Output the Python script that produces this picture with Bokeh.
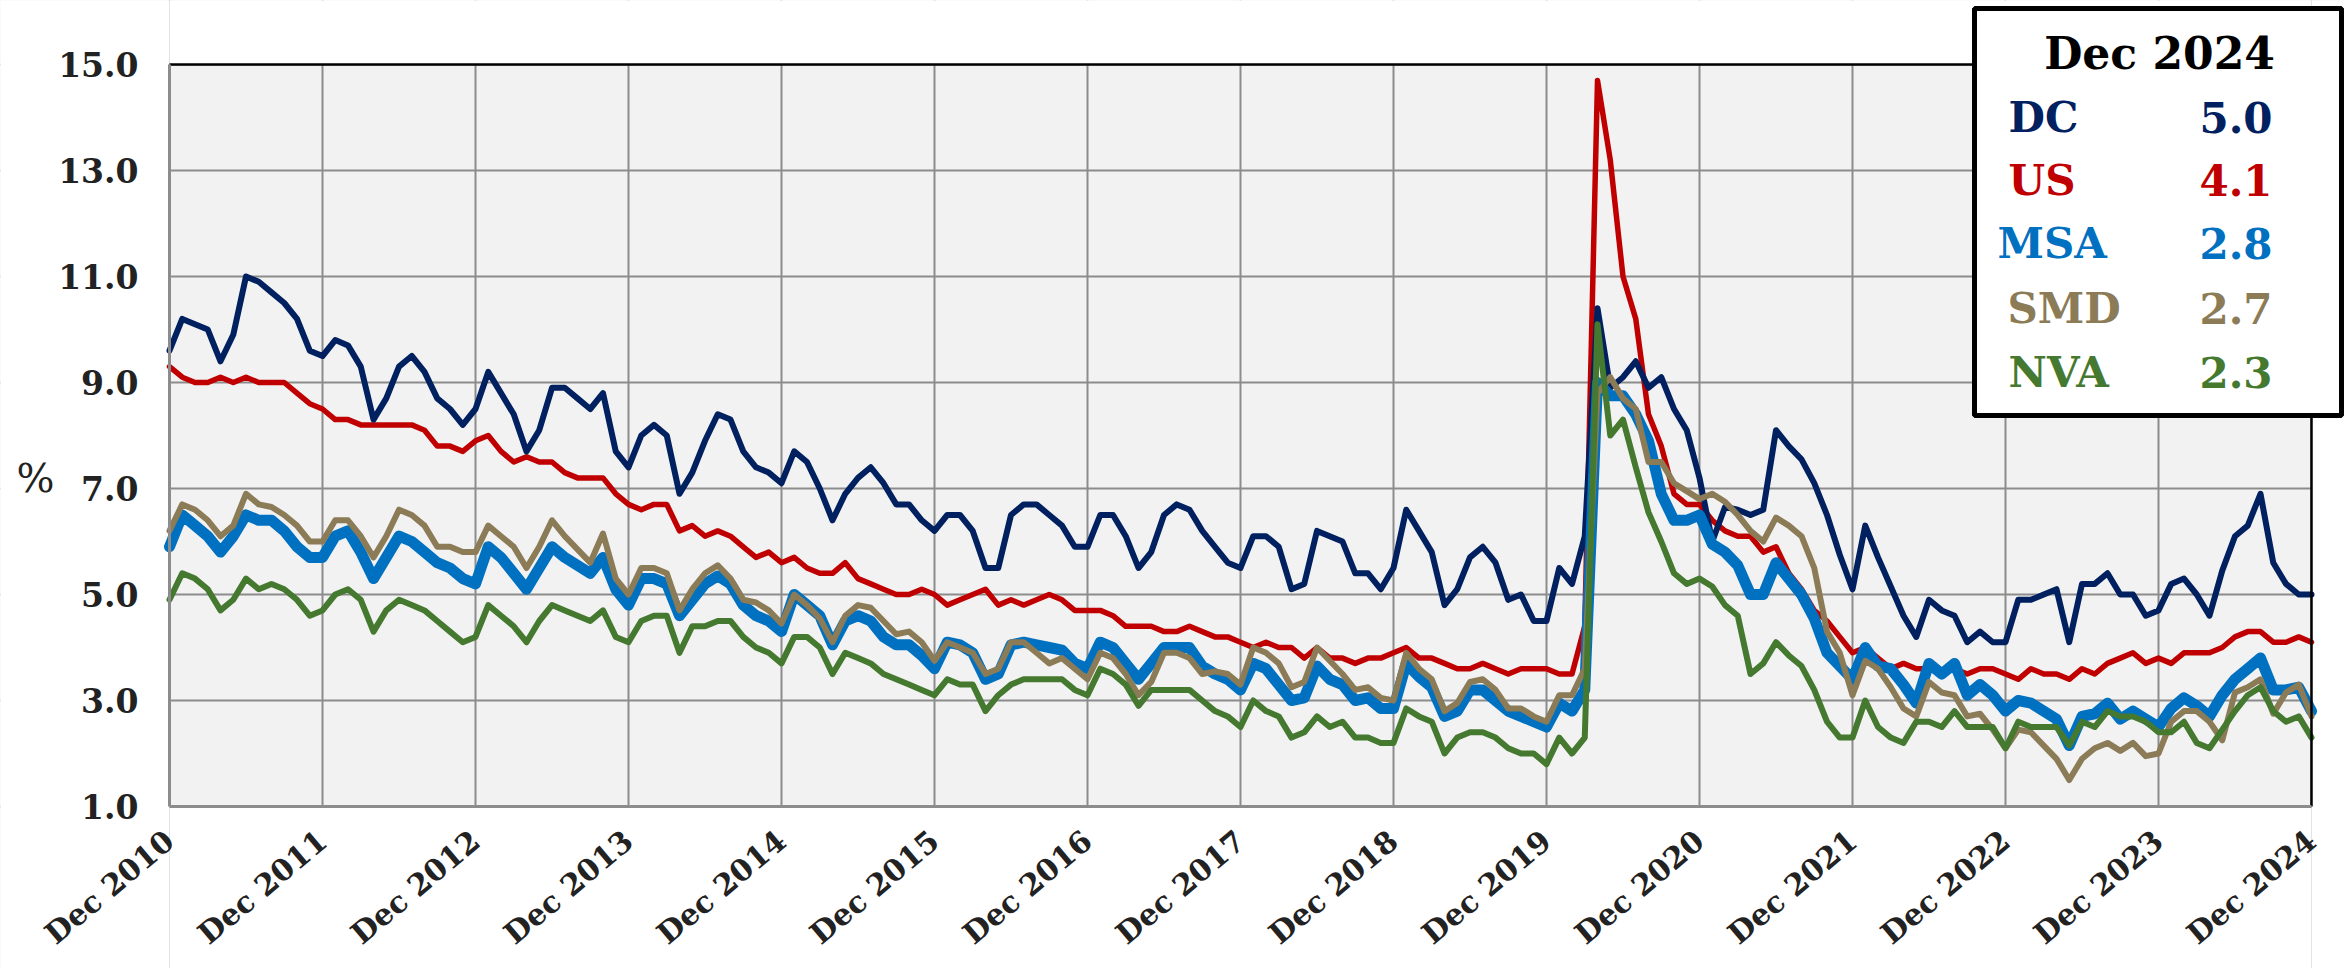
import math
from bokeh.plotting import figure
from bokeh.models import FixedTicker, Label, BoxAnnotation
from bokeh.embed import file_html
from bokeh.resources import INLINE

# ---------------- data (monthly, Dec 2010 .. Dec 2024) ----------------
tick_labels = ["Dec 2010", "Dec 2011", "Dec 2012", "Dec 2013", "Dec 2014", "Dec 2015", "Dec 2016",
               "Dec 2017", "Dec 2018", "Dec 2019", "Dec 2020", "Dec 2021", "Dec 2022", "Dec 2023", "Dec 2024"]
y_ticks = [1.0, 3.0, 5.0, 7.0, 9.0, 11.0, 13.0, 15.0]

dc = [9.6, 10.2, 10.1, 10.0, 9.4, 9.9, 11.0, 10.9, 10.7, 10.5, 10.2, 9.6,
      9.5, 9.8, 9.7, 9.3, 8.3, 8.7, 9.3, 9.5, 9.2, 8.7, 8.5, 8.2,
      8.5, 9.2, 8.8, 8.4, 7.7, 8.1, 8.9, 8.9, 8.7, 8.5, 8.8, 7.7,
      7.4, 8.0, 8.2, 8.0, 6.9, 7.3, 7.9, 8.4, 8.3, 7.7, 7.4, 7.3,
      7.1, 7.7, 7.5, 7.0, 6.4, 6.9, 7.2, 7.4, 7.1, 6.7, 6.7, 6.4,
      6.2, 6.5, 6.5, 6.2, 5.5, 5.5, 6.5, 6.7, 6.7, 6.5, 6.3, 5.9,
      5.9, 6.5, 6.5, 6.1, 5.5, 5.8, 6.5, 6.7, 6.6, 6.2, 5.9, 5.6,
      5.5, 6.1, 6.1, 5.9, 5.1, 5.2, 6.2, 6.1, 6.0, 5.4, 5.4, 5.1,
      5.5, 6.6, 6.2, 5.8, 4.8, 5.1, 5.7, 5.9, 5.6, 4.9, 5.0, 4.5,
      4.5, 5.5, 5.2, 6.1, 10.4, 8.9, 9.1, 9.4, 8.9, 9.1, 8.5, 8.1,
      7.2, 6.0, 6.65, 6.6, 6.5, 6.6, 8.1, 7.8, 7.55, 7.1, 6.5, 5.75,
      5.1, 6.3, 5.7, 5.15, 4.6, 4.2, 4.9, 4.7, 4.6, 4.1, 4.3, 4.1,
      4.1, 4.9, 4.9, 5.0, 5.1, 4.1, 5.2, 5.2, 5.4, 5.0, 5.0, 4.6,
      4.7, 5.2, 5.3, 5.0, 4.6, 5.45, 6.1, 6.3, 6.9, 5.6, 5.2, 5.0, 5.0]

us = [9.3, 9.1, 9.0, 9.0, 9.1, 9.0, 9.1, 9.0, 9.0, 9.0, 8.8, 8.6,
      8.5, 8.3, 8.3, 8.2, 8.2, 8.2, 8.2, 8.2, 8.1, 7.8, 7.8, 7.7,
      7.9, 8.0, 7.7, 7.5, 7.6, 7.5, 7.5, 7.3, 7.2, 7.2, 7.2, 6.9,
      6.7, 6.6, 6.7, 6.7, 6.2, 6.3, 6.1, 6.2, 6.1, 5.9, 5.7, 5.8,
      5.6, 5.7, 5.5, 5.4, 5.4, 5.6, 5.3, 5.2, 5.1, 5.0, 5.0, 5.1,
      5.0, 4.8, 4.9, 5.0, 5.1, 4.8, 4.9, 4.8, 4.9, 5.0, 4.9, 4.7,
      4.7, 4.7, 4.6, 4.4, 4.4, 4.4, 4.3, 4.3, 4.4, 4.3, 4.2, 4.2,
      4.1, 4.0, 4.1, 4.0, 4.0, 3.8, 4.0, 3.8, 3.8, 3.7, 3.8, 3.8,
      3.9, 4.0, 3.8, 3.8, 3.7, 3.6, 3.6, 3.7, 3.6, 3.5, 3.6, 3.6,
      3.6, 3.5, 3.5, 4.4, 14.7, 13.2, 11.0, 10.2, 8.4, 7.8, 6.9, 6.7,
      6.7, 6.4, 6.2, 6.1, 6.1, 5.8, 5.9, 5.4, 5.1, 4.7, 4.5, 4.2,
      3.9, 4.0, 3.8, 3.6, 3.7, 3.6, 3.6, 3.5, 3.6, 3.5, 3.6, 3.6,
      3.5, 3.4, 3.6, 3.5, 3.5, 3.4, 3.6, 3.5, 3.7, 3.8, 3.9, 3.7,
      3.8, 3.7, 3.9, 3.9, 3.9, 4.0, 4.2, 4.3, 4.3, 4.1, 4.1, 4.2, 4.1]

msa = [5.9, 6.5, 6.3, 6.1, 5.8, 6.1, 6.5, 6.4, 6.4, 6.2, 5.9, 5.7,
       5.7, 6.1, 6.2, 5.8, 5.3, 5.7, 6.1, 6.0, 5.8, 5.6, 5.5, 5.3,
       5.2, 5.9, 5.7, 5.4, 5.1, 5.5, 5.9, 5.7, 5.55, 5.4, 5.7, 5.1,
       4.8, 5.3, 5.3, 5.2, 4.6, 4.9, 5.2, 5.35, 5.2, 4.8, 4.6, 4.5,
       4.3, 5.0, 4.8, 4.6, 4.05, 4.5, 4.6, 4.5, 4.2, 4.05, 4.05, 3.85,
       3.6, 4.1, 4.05, 3.9, 3.4, 3.5, 4.05, 4.1, 4.05, 4.0, 3.95, 3.7,
       3.6, 4.1, 4.0, 3.7, 3.4, 3.7, 4.0, 4.0, 4.0, 3.65, 3.5, 3.4,
       3.2, 3.7, 3.6, 3.3, 3.0, 3.05, 3.65, 3.4, 3.3, 3.0, 3.05, 2.85,
       2.85, 3.7, 3.45, 3.25, 2.7, 2.8, 3.2, 3.2, 3.0, 2.8, 2.7, 2.6,
       2.5, 2.95, 2.8, 3.2, 9.0, 8.75, 8.75, 8.4, 7.9, 6.9, 6.4, 6.4,
       6.5, 5.95, 5.8, 5.55, 5.0, 5.0, 5.6, 5.3, 5.0, 4.55, 3.9, 3.65,
       3.4, 4.0, 3.65, 3.6, 3.3, 2.95, 3.7, 3.5, 3.7, 3.1, 3.3, 3.1,
       2.8, 3.0, 2.95, 2.8, 2.65, 2.15, 2.7, 2.75, 2.95, 2.65, 2.8, 2.65,
       2.5, 2.85, 3.05, 2.9, 2.7, 3.1, 3.4, 3.6, 3.8, 3.2, 3.2, 3.25, 2.8]

smd = [6.2, 6.7, 6.6, 6.4, 6.1, 6.3, 6.9, 6.7, 6.65, 6.5, 6.3, 6.0,
       6.0, 6.4, 6.4, 6.1, 5.7, 6.1, 6.6, 6.5, 6.3, 5.9, 5.9, 5.8,
       5.8, 6.3, 6.1, 5.9, 5.5, 5.9, 6.4, 6.1, 5.85, 5.6, 6.15, 5.3,
       5.0, 5.5, 5.5, 5.4, 4.7, 5.1, 5.4, 5.55, 5.3, 4.9, 4.85, 4.7,
       4.45, 5.0, 4.8, 4.55, 4.1, 4.6, 4.8, 4.75, 4.5, 4.25, 4.3, 4.1,
       3.75, 4.1, 4.0, 3.9, 3.5, 3.6, 4.1, 4.1, 3.9, 3.7, 3.8, 3.6,
       3.4, 3.9, 3.8, 3.5, 3.1, 3.35, 3.9, 3.9, 3.8, 3.5, 3.55, 3.5,
       3.3, 4.0, 3.9, 3.7, 3.25, 3.35, 4.0, 3.75, 3.5, 3.2, 3.25, 3.05,
       3.0, 3.9, 3.6, 3.4, 2.8, 2.95, 3.35, 3.4, 3.2, 2.85, 2.85, 2.7,
       2.6, 3.1, 3.1, 3.6, 8.8, 9.1, 8.7, 8.5, 7.5, 7.5, 7.1, 6.95,
       6.8, 6.9, 6.75, 6.5, 6.2, 6.0, 6.45, 6.3, 6.1, 5.5, 4.3, 3.9,
       3.1, 3.75, 3.6, 3.25, 2.85, 2.7, 3.35, 3.15, 3.1, 2.7, 2.75, 2.45,
       2.1, 2.45, 2.4, 2.15, 1.9, 1.5, 1.9, 2.1, 2.2, 2.05, 2.2, 1.95,
       2.0, 2.6, 2.8, 2.8, 2.6, 2.25, 3.15, 3.25, 3.4, 2.75, 3.15, 3.3, 2.7]

nva = [4.9, 5.4, 5.3, 5.1, 4.7, 4.9, 5.3, 5.1, 5.2, 5.1, 4.9, 4.6,
       4.7, 5.0, 5.1, 4.9, 4.3, 4.7, 4.9, 4.8, 4.7, 4.5, 4.3, 4.1,
       4.2, 4.8, 4.6, 4.4, 4.1, 4.5, 4.8, 4.7, 4.6, 4.5, 4.7, 4.2,
       4.1, 4.5, 4.6, 4.6, 3.9, 4.4, 4.4, 4.5, 4.5, 4.2, 4.0, 3.9,
       3.7, 4.2, 4.2, 4.0, 3.5, 3.9, 3.8, 3.7, 3.5, 3.4, 3.3, 3.2,
       3.1, 3.4, 3.3, 3.3, 2.8, 3.1, 3.3, 3.4, 3.4, 3.4, 3.4, 3.2,
       3.1, 3.6, 3.5, 3.3, 2.9, 3.2, 3.2, 3.2, 3.2, 3.0, 2.8, 2.7,
       2.5, 3.0, 2.8, 2.7, 2.3, 2.4, 2.7, 2.5, 2.6, 2.3, 2.3, 2.2,
       2.2, 2.85, 2.7, 2.6, 2.0, 2.3, 2.4, 2.4, 2.3, 2.1, 2.0, 2.0,
       1.8, 2.3, 2.0, 2.3, 10.1, 8.0, 8.3, 7.4, 6.55, 6.0, 5.4, 5.2,
       5.3, 5.15, 4.8, 4.6, 3.5, 3.7, 4.1, 3.85, 3.65, 3.2, 2.6, 2.3,
       2.3, 3.0, 2.5, 2.3, 2.2, 2.6, 2.6, 2.5, 2.8, 2.5, 2.5, 2.5,
       2.1, 2.6, 2.5, 2.5, 2.5, 2.15, 2.6, 2.5, 2.8, 2.7, 2.7, 2.6,
       2.4, 2.4, 2.6, 2.2, 2.1, 2.45, 2.8, 3.1, 3.25, 2.8, 2.6, 2.7, 2.3]

series_names = ["DC", "US", "MSA", "SMD", "NVA"]
series_values = [dc, us, msa, smd, nva]
latest_label = "Dec 2024"

# ---------------- styling / layout ----------------
colors = {"DC": "#002060", "US": "#C00000", "MSA": "#0070C0", "SMD": "#8B7B56", "NVA": "#44792F"}
widths = {"DC": 6.0, "US": 5.5, "MSA": 11.0, "SMD": 6.0, "NVA": 6.0}
draw_order = ["US", "DC", "MSA", "SMD", "NVA"]

W, H = 2345, 968
PL, PR, PT, PB = 169, 2311, 64, 806   # plot area in canvas pixels
months = list(range(len(dc)))
n_last = len(dc) - 1
y_lo, y_hi = y_ticks[0], y_ticks[-1]
ppx = (PR - PL) / n_last
ppy = (PB - PT) / (y_hi - y_lo)
x_start, x_end = -PL / ppx, n_last + (W - PR) / ppx
y_start, y_end = y_lo - (H - PB) / ppy, y_hi + PT / ppy

p = figure(width=W, height=H, output_backend="svg", toolbar_location=None,
           x_range=(x_start, x_end), y_range=(y_start, y_end),
           min_border_left=0, min_border_right=0, min_border_top=0, min_border_bottom=0)
p.background_fill_color = "#f2f2f2"
p.border_fill_color = "white"
p.outline_line_color = None

xticks = list(range(0, len(dc), 12))
p.xaxis.ticker = FixedTicker(ticks=xticks)
p.xgrid.ticker = FixedTicker(ticks=xticks)
p.xaxis.major_label_overrides = {t: lab for t, lab in zip(xticks, tick_labels)}
p.yaxis.ticker = FixedTicker(ticks=y_ticks)
p.ygrid.ticker = FixedTicker(ticks=y_ticks)
p.yaxis.major_label_overrides = {t: f"{t:.1f}" for t in y_ticks}

for g in (p.xgrid, p.ygrid):
    g.grid_line_color = "#8c8c8c"
    g.grid_line_width = 2

for ax in (p.xaxis, p.yaxis):
    ax.axis_line_color = "#8c8c8c"
    ax.axis_line_width = 3
    ax.major_tick_line_color = None
    ax.minor_tick_line_color = None
    ax.major_label_text_font = "DejaVu Serif"
    ax.major_label_text_font_style = "bold"
    ax.major_label_text_color = "#222222"

p.xaxis.fixed_location = y_lo
p.yaxis.fixed_location = 0
p.xaxis.bounds = (0, n_last)
p.yaxis.bounds = (y_lo, y_hi)
p.yaxis.major_label_text_font_size = "33px"
p.xaxis.major_label_text_font_size = "30px"
p.yaxis.major_label_standoff = 25
p.xaxis.major_label_standoff = 24
p.xaxis.major_label_orientation = 0.70

# white masks outside the plotting rectangle (hide grid overflow)
p.quad(left=[x_start, n_last, 0, 0], right=[0, x_end, n_last, n_last],
       bottom=[y_start, y_start, y_hi, y_start], top=[y_end, y_end, y_end, y_lo],
       fill_color="white", line_color=None)

vals = dict(zip(series_names, series_values))
for name in draw_order:
    p.line(months, vals[name], line_color=colors[name], line_width=widths[name],
           line_join="round", line_cap="round")

# black top / right frame edges
p.segment(x0=[0, n_last], y0=[y_hi, y_lo], x1=[n_last, n_last], y1=[y_hi, y_hi],
          line_color="black", line_width=2.5)

# screen helpers: canvas pixel (top-left origin) -> screen units (bottom-left origin)
def fx(px):
    return px

def fy(py):
    return H - py

p.add_layout(Label(x=fx(35), y=fy(477), x_units="screen", y_units="screen", text="%",
                   text_font="DejaVu Serif", text_font_size="40px", text_color="#222222",
                   text_align="center", text_baseline="middle"))

p.add_layout(BoxAnnotation(left=fx(1974), right=fx(2341), top=fy(8), bottom=fy(415),
                           left_units="screen", right_units="screen", top_units="screen", bottom_units="screen",
                           fill_color="white", fill_alpha=1.0, line_color="black", line_width=5, line_alpha=1.0))

p.add_layout(Label(x=fx(2159), y=fy(53), x_units="screen", y_units="screen", text=latest_label,
                   text_font="DejaVu Serif", text_font_style="bold", text_font_size="44px",
                   text_color="black", text_align="center", text_baseline="middle"))

row_y = {"DC": 117, "US": 180, "MSA": 243, "SMD": 308, "NVA": 372}
name_x = {"DC": 2008, "US": 2008, "MSA": 1997, "SMD": 2007, "NVA": 2008}
for name in series_names:
    c = colors[name]
    p.add_layout(Label(x=fx(name_x[name]), y=fy(row_y[name]), x_units="screen", y_units="screen", text=name,
                       text_font="DejaVu Serif", text_font_style="bold", text_font_size="42px",
                       text_color=c, text_align="left", text_baseline="middle"))
    p.add_layout(Label(x=fx(2272), y=fy(row_y[name]), x_units="screen", y_units="screen",
                       text=f"{vals[name][-1]:.1f}",
                       text_font="DejaVu Serif", text_font_style="bold", text_font_size="42px",
                       text_color=c, text_align="right", text_baseline="middle"))

open("out.html", "w").write(file_html(p, INLINE))
